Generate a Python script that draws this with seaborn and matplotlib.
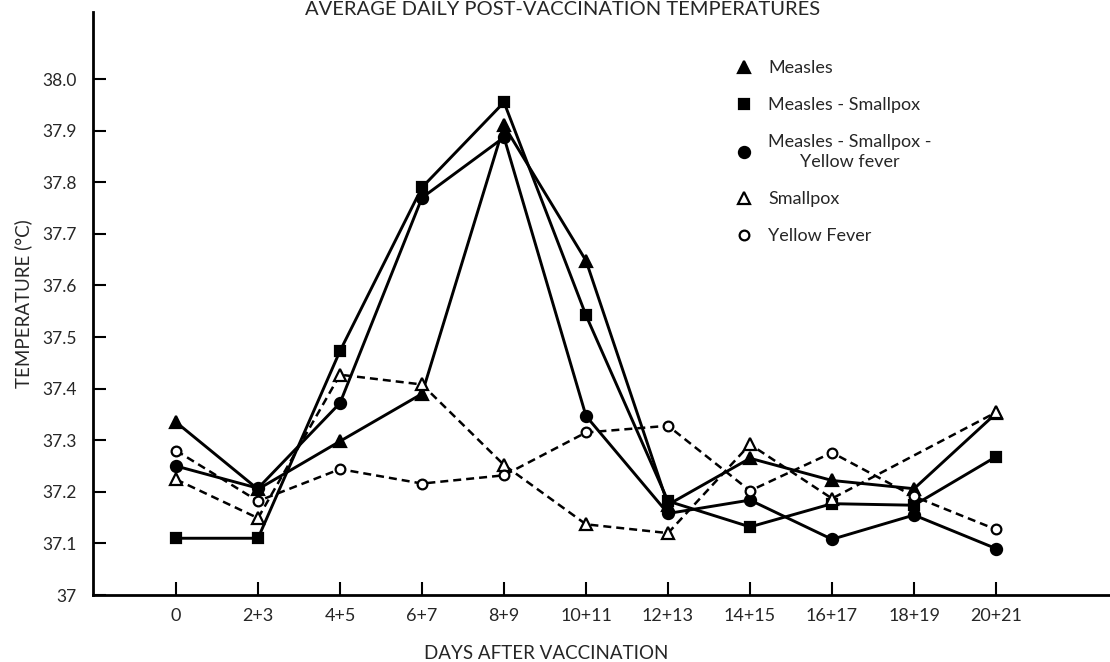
import numpy as np
import pandas as pd
import matplotlib
matplotlib.use('Agg')
import matplotlib.pyplot as plt
import seaborn as sns
from matplotlib.lines import Line2D

# Values (mean temperature in deg C)
days = ['0', '2+3', '4+5', '6+7', '8+9', '10+11', '12+13', '14+15', '16+17', '18+19', '20+21']
measles = [37.335, 37.205, 37.298, 37.39, 37.91, 37.648, 37.175, 37.265, 37.222, 37.206, 37.352]
measles_smallpox = [37.11, 37.11, 37.473, 37.79, 37.955, 37.542, 37.182, 37.132, 37.177, 37.174, 37.268]
measles_smallpox_yf = [37.25, 37.207, 37.372, 37.77, 37.887, 37.347, 37.158, 37.184, 37.108, 37.155, 37.09]
smallpox = [37.224, 37.149, 37.427, 37.408, 37.252, 37.137, 37.12, 37.292, 37.187, np.nan, 37.354]
yellow_fever = [37.28, 37.182, 37.244, 37.216, 37.232, 37.315, 37.328, 37.202, 37.276, 37.191, 37.127]

yticks = [37.0, 37.1, 37.2, 37.3, 37.4, 37.5, 37.6, 37.7, 37.8, 37.9, 38.0]
ytick_labels = ['37', '37.1', '37.2', '37.3', '37.4', '37.5', '37.6', '37.7', '37.8', '37.9', '38.0']

series = {
    'Measles': measles,
    'Measles - Smallpox': measles_smallpox,
    'Measles - Smallpox -\nYellow fever': measles_smallpox_yf,
    'Smallpox': smallpox,
    'Yellow Fever': yellow_fever,
}

# marker, filled?, dashed?, markersize
styles = {
    'Measles': ('^', True, False, 8.5),
    'Measles - Smallpox': ('s', True, False, 7),
    'Measles - Smallpox -\nYellow fever': ('o', True, False, 8),
    'Smallpox': ('^', False, True, 8),
    'Yellow Fever': ('o', False, True, 7),
}

# long-form table
frames = []
for name, vals in series.items():
    frames.append(pd.DataFrame({'pos': np.arange(len(days)), 'temp': vals, 'group': name}))
df = pd.concat(frames, ignore_index=True).dropna()

sns.set_style('ticks')
plt.rcParams['font.family'] = ['Lato', 'DejaVu Sans']

fig = plt.figure(figsize=(11.1, 6.62), dpi=100)
ax = fig.add_axes([0.0838, 0.1012, 0.9162, 0.8807])

handles = []
for name in series:
    marker, filled, dashed, ms = styles[name]
    face = 'black' if filled else 'white'
    ls = (0, (3.2, 2.0)) if dashed else '-'
    lw = 1.8 if dashed else 2.1
    sub = df[df['group'] == name]
    sns.lineplot(data=sub, x='pos', y='temp', ax=ax, color='black', estimator=None,
                 marker=marker, markersize=ms, markerfacecolor=face,
                 markeredgecolor='black', markeredgewidth=1.6,
                 linestyle=ls, linewidth=lw, legend=False)
    handles.append(Line2D([], [], color='black', marker=marker, linestyle='none',
                          markersize=ms, markerfacecolor=face,
                          markeredgecolor='black', markeredgewidth=1.6, label=name))

ax.set_xlim(-1.012, 11.39)
ax.set_ylim(37.0, 38.13)
ax.set_xticks(np.arange(len(days)))
ax.set_xticklabels(days, fontsize=13)
ax.set_yticks(yticks)
ax.set_yticklabels(ytick_labels, fontsize=12.5)
ax.tick_params(axis='both', direction='in', length=9.5, width=1.5, color='black')
ax.tick_params(axis='x', pad=9)
ax.tick_params(axis='y', pad=12)

sns.despine(ax=ax)
for side in ['left', 'bottom']:
    ax.spines[side].set_linewidth(2.0)
    ax.spines[side].set_color('black')

ax.set_ylabel('TEMPERATURE (°C)', fontsize=13.5, labelpad=7)
ax.set_xlabel('DAYS AFTER VACCINATION', fontsize=13.5)
ax.xaxis.set_label_coords(0.446, -0.0995)
ax.xaxis.label.set_va('center')

fig.text(0.507, 0.999, 'AVERAGE DAILY POST-VACCINATION TEMPERATURES',
         ha='center', va='top', fontsize=14.5)

leg = ax.legend(handles=handles, loc='upper left', bbox_to_anchor=(0.631, 0.917),
                frameon=False, fontsize=13, handlelength=1.0, handletextpad=0.85,
                labelspacing=1.15, borderpad=0, borderaxespad=0)
for t in leg.get_texts():
    t.set_multialignment('center')
    t.set_linespacing(1.35)

fig.savefig('out.png', dpi=100, facecolor='white')
